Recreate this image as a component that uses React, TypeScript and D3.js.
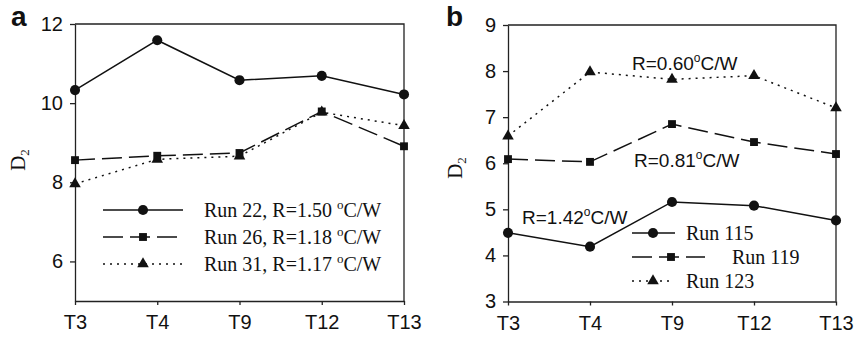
import React, { useRef, useEffect } from 'react';
import * as d3 from 'd3';

// shared x categories
const categories = ['T3', 'T4', 'T9', 'T12', 'T13'];

// panel a
const run22 = [10.33, 11.59, 10.58, 10.69, 10.22];
const run26 = [8.56, 8.67, 8.74, 9.79, 8.91];
const run31 = [7.96, 8.58, 8.66, 9.77, 9.43];
const ticksA = [6, 8, 10, 12];
const legendA = ['Run 22, R=1.50 ', 'Run 26, R=1.18 ', 'Run 31, R=1.17 '];

// panel b
const run115 = [4.49, 4.19, 5.16, 5.08, 4.76];
const run119 = [6.09, 6.03, 6.85, 6.46, 6.2];
const run123 = [6.59, 7.98, 7.82, 7.9, 7.2];
const ticksB = [3, 4, 5, 6, 7, 8, 9];
const legendB = ['Run 115', 'Run 119', 'Run 123'];
const notesB = ['R=0.60', 'R=0.81', 'R=1.42'];

const SANS = "'Liberation Sans', Arial, sans-serif";
const SERIF = "'Liberation Serif', 'Times New Roman', serif";
const INK = '#111';

const styles = [
  { dash: null, symbol: d3.symbolCircle, size: 80 },
  { dash: '20,7', symbol: d3.symbolSquare, size: 62 },
  { dash: '2,5', symbol: d3.symbolTriangle, size: 58 },
];

type Panel = {
  left: number;
  right: number;
  top: number;
  bottom: number;
  domain: [number, number];
  ticks: number[];
  series: number[][];
  letter: string;
  letterX: number;
  labelX: number;
  labelY: number;
};

const App: React.FC = () => {
  const svgRef = useRef<SVGSVGElement | null>(null);

  useEffect(() => {
    const svg = d3.select(svgRef.current);
    svg.selectAll('*').remove();

    const drawPanel = (p: Panel) => {
      const g = svg.append('g');
      const x = d3.scalePoint().domain(categories).range([p.left, p.right]).padding(0);
      const y = d3.scaleLinear().domain(p.domain).range([p.bottom, p.top]);

      // frame top + right
      g.append('path')
        .attr('d', `M${p.left},${p.top}H${p.right}V${p.bottom}`)
        .attr('fill', 'none')
        .attr('stroke', '#222')
        .attr('stroke-width', 1.3);

      const ya = g.append('g')
        .attr('transform', `translate(${p.left},0)`)
        .call(d3.axisLeft(y).tickValues(p.ticks).tickFormat(d3.format('d'))
          .tickSize(5).tickPadding(7).tickSizeOuter(0));
      const xa = g.append('g')
        .attr('transform', `translate(0,${p.bottom})`)
        .call(d3.axisBottom(x).tickSize(4).tickPadding(10).tickSizeOuter(0));
      [ya, xa].forEach(a => {
        a.selectAll('path, line').attr('stroke', '#222').attr('stroke-width', 1.3);
        a.selectAll('text').attr('font-family', SANS).attr('font-size', 20).attr('fill', INK);
      });

      p.series.forEach((vals, i) => {
        const st = styles[i];
        const line = d3.line<number>()
          .x((_, j) => x(categories[j]) as number)
          .y(d => y(d));
        g.append('path')
          .datum(vals)
          .attr('fill', 'none')
          .attr('stroke', INK)
          .attr('stroke-width', 1.5)
          .attr('stroke-dasharray', st.dash)
          .attr('d', line);
        g.selectAll(null)
          .data(vals)
          .enter()
          .append('path')
          .attr('d', d3.symbol().type(st.symbol).size(st.size)())
          .attr('transform', (d, j) => `translate(${x(categories[j])},${y(d)})`)
          .attr('fill', INK);
      });

      // panel letter
      g.append('text')
        .attr('x', p.letterX)
        .attr('y', 26)
        .attr('font-family', SANS)
        .attr('font-weight', 'bold')
        .attr('font-size', 28)
        .attr('fill', INK)
        .text(p.letter);

      // D2 label
      const lab = g.append('text')
        .attr('transform', `translate(${p.labelX},${p.labelY}) rotate(-90)`)
        .attr('text-anchor', 'middle')
        .attr('font-family', SERIF)
        .attr('font-size', 21)
        .attr('fill', INK);
      lab.append('tspan').text('D');
      lab.append('tspan').attr('font-size', 13).attr('dy', 4).text('2');
    };

    drawPanel({
      left: 75, right: 404, top: 24, bottom: 301,
      domain: [5, 12], ticks: ticksA,
      series: [run22, run26, run31],
      letter: 'a', letterX: 11, labelX: 25, labelY: 160,
    });
    drawPanel({
      left: 508, right: 836, top: 25, bottom: 301.5,
      domain: [3, 9], ticks: ticksB,
      series: [run115, run119, run123],
      letter: 'b', letterX: 446, labelX: 462, labelY: 168,
    });

    // legend a
    const legA = svg.append('g');
    legendA.forEach((name, i) => {
      const st = styles[i];
      const cy = 210 + i * 27;
      legA.append('line')
        .attr('x1', 103).attr('x2', 183).attr('y1', cy).attr('y2', cy)
        .attr('stroke', INK).attr('stroke-width', 1.5)
        .attr('stroke-dasharray', st.dash);
      legA.append('path')
        .attr('d', d3.symbol().type(st.symbol).size(st.size)())
        .attr('transform', `translate(143,${cy})`)
        .attr('fill', INK);
      const t = legA.append('text')
        .attr('x', 204).attr('y', cy + 7)
        .attr('font-family', SERIF).attr('font-size', 20).attr('fill', INK);
      t.append('tspan').text(name);
      t.append('tspan').attr('font-size', 13).attr('dy', -8).text('o');
      t.append('tspan').attr('dy', 8).text('C/W');
    });

    // legend b
    const legB = svg.append('g');
    const legBx2 = [675, 705, 672];
    const legBm = [653, 671, 653];
    const legBt = [686, 732, 686];
    legendB.forEach((name, i) => {
      const st = styles[i];
      const cy = 233 + i * 24;
      legB.append('line')
        .attr('x1', 632).attr('x2', legBx2[i]).attr('y1', cy).attr('y2', cy)
        .attr('stroke', INK).attr('stroke-width', 1.5)
        .attr('stroke-dasharray', st.dash);
      legB.append('path')
        .attr('d', d3.symbol().type(st.symbol).size(st.size)())
        .attr('transform', `translate(${legBm[i]},${cy})`)
        .attr('fill', INK);
      legB.append('text')
        .attr('x', legBt[i]).attr('y', cy + 7)
        .attr('font-family', SERIF).attr('font-size', 20).attr('fill', INK)
        .text(name);
    });

    // R annotations in b
    const notePos = [[632, 70], [634, 167], [522, 224]];
    notesB.forEach((n, i) => {
      const t = svg.append('text')
        .attr('x', notePos[i][0]).attr('y', notePos[i][1])
        .attr('font-family', SANS).attr('font-size', 19).attr('fill', INK);
      t.append('tspan').text(n);
      t.append('tspan').attr('font-size', 12).attr('dy', -8).text('o');
      t.append('tspan').attr('dy', 8).text('C/W');
    });
  }, []);

  return (
    <svg
      ref={svgRef}
      width={858}
      height={339}
      style={{ position: 'absolute', left: 0, top: 0, background: '#fff' }}
    ></svg>
  );
};

export default App;
